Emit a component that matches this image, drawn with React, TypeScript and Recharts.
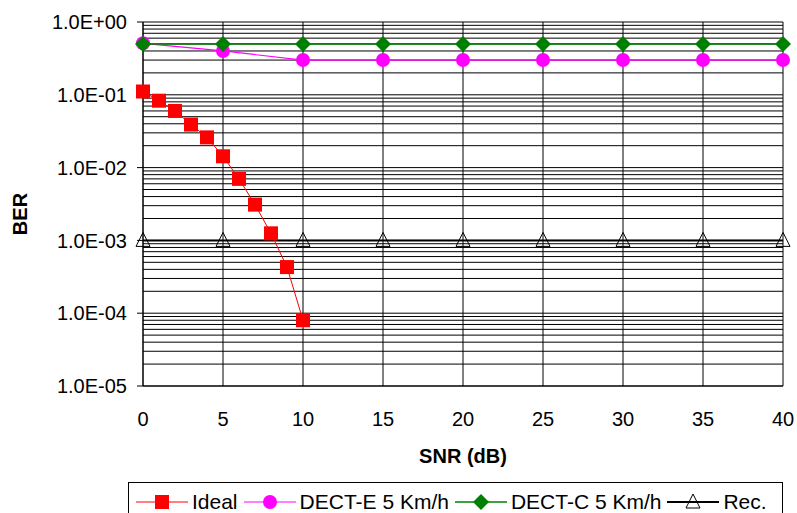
import React from "react"
import {
  LineChart,
  Line,
  XAxis,
  YAxis,
  CartesianGrid,
  ReferenceLine,
  Legend,
} from "recharts"

// SNR (dB) values
const idealSnr = [0, 1, 2, 3, 4, 5, 6, 7, 8, 9, 10]
const idealBer = [0.111, 0.083, 0.06, 0.039, 0.026, 0.0143, 0.007, 0.0031, 0.00125, 0.00043, 0.00008]

const mobileSnr = [0, 5, 10, 15, 20, 25, 30, 35, 40]
const dectEBer = [0.51, 0.4, 0.3, 0.3, 0.3, 0.3, 0.3, 0.3, 0.3]
const dectCBer = [0.5, 0.5, 0.5, 0.5, 0.5, 0.5, 0.5, 0.5, 0.5]
const recBer = [0.001, 0.001, 0.001, 0.001, 0.001, 0.001, 0.001, 0.001, 0.001]

const xTicks = [0, 5, 10, 15, 20, 25, 30, 35, 40]
const yTicks = [1e-5, 1e-4, 1e-3, 1e-2, 1e-1, 1]

const seriesNames = ["Ideal", "DECT-E 5 Km/h", "DECT-C 5 Km/h", "Rec."]

// minor log gridlines 2..9 in each decade
const minorY: number[] = []
for (let e = -5; e < 0; e++) {
  for (let m = 2; m <= 9; m++) minorY.push(m * Math.pow(10, e))
}

const idealData = idealSnr.map((x, i) => ({ x, y: idealBer[i] }))
const dectEData = mobileSnr.map((x, i) => ({ x, y: dectEBer[i] }))
const dectCData = mobileSnr.map((x, i) => ({ x, y: dectCBer[i] }))
const recData = mobileSnr.map((x, i) => ({ x, y: recBer[i] }))

const FONT = "'Liberation Sans', Arial, sans-serif"

const fmtExp = (v: number) => {
  const e = Math.round(Math.log10(v))
  return `1.0E${e < 0 ? "-" : "+"}${String(Math.abs(e)).padStart(2, "0")}`
}

const Square = (props: any) => {
  const { cx, cy } = props
  if (cx == null || cy == null) return null
  return <rect x={cx - 7} y={cy - 7} width={14} height={14} fill="#ff0000" />
}

const Circle = (props: any) => {
  const { cx, cy } = props
  if (cx == null || cy == null) return null
  return <circle cx={cx} cy={cy} r={7} fill="#ff00ff" />
}

const Diamond = (props: any) => {
  const { cx, cy } = props
  if (cx == null || cy == null) return null
  return <polygon points={`${cx},${cy - 8} ${cx + 8},${cy} ${cx},${cy + 8} ${cx - 8},${cy}`} fill="#008000" />
}

const Triangle = (props: any) => {
  const { cx, cy } = props
  if (cx == null || cy == null) return null
  return (
    <polygon
      points={`${cx},${cy - 8} ${cx + 7},${cy + 6} ${cx - 7},${cy + 6}`}
      fill="none"
      stroke="#000"
      strokeWidth={1}
    />
  )
}

const legendIcons = [
  { color: "#ff0000", width: 1, shape: Square },
  { color: "#ff00ff", width: 1, shape: Circle },
  { color: "#008000", width: 1.5, shape: Diamond },
  { color: "#000000", width: 2, shape: Triangle },
]

const LegendBox = () => (
  <div
    style={{
      border: "1px solid #000",
      height: 40,
      display: "flex",
      alignItems: "center",
      paddingLeft: 7,
      boxSizing: "border-box",
      fontFamily: FONT,
      fontSize: 21,
      color: "#000",
      whiteSpace: "nowrap",
    }}
  >
    {seriesNames.map((name, i) => {
      const ic = legendIcons[i]
      const Shape = ic.shape
      return (
        <span key={name} style={{ display: "inline-flex", alignItems: "center", marginRight: 6 }}>
          <svg width={52} height={20} style={{ marginRight: 4 }}>
            <line x1={0} y1={10} x2={52} y2={10} stroke={ic.color} strokeWidth={ic.width} />
            <Shape cx={26} cy={10} />
          </svg>
          {name}
        </span>
      )
    })}
  </div>
)

export default function App() {
  return (
    <div style={{ position: "absolute", left: 0, top: 0, background: "#fff" }}>
      <LineChart width={797} height={513} margin={{ top: 22, right: 14, left: 0, bottom: 0 }}>
        <CartesianGrid stroke="#000" strokeWidth={1} />
        {minorY.map((v) => (
          <ReferenceLine key={v} y={v} stroke="#000" strokeWidth={1} ifOverflow="hidden" />
        ))}
        <XAxis
          dataKey="x"
          type="number"
          domain={[0, 40]}
          ticks={xTicks}
          allowDuplicatedCategory={false}
          height={127}
          tickSize={0}
          tickMargin={26}
          axisLine={{ stroke: "#000" }}
          tick={{ fill: "#000", fontSize: 20, fontFamily: FONT }}
          label={{
            content: (p: any) => {
              const vb = p.viewBox
              return (
                <text
                  x={vb.x + vb.width / 2}
                  y={vb.y + 77}
                  textAnchor="middle"
                  fontFamily={FONT}
                  fontSize={20}
                  fontWeight="bold"
                  fill="#000"
                >
                  SNR (dB)
                </text>
              )
            },
          }}
        />
        <YAxis
          type="number"
          scale="log"
          domain={[1e-5, 1]}
          ticks={yTicks}
          allowDataOverflow
          width={143}
          tickSize={6}
          tickMargin={10}
          tickFormatter={fmtExp}
          axisLine={{ stroke: "#000" }}
          tickLine={{ stroke: "#000" }}
          tick={{ fill: "#000", fontSize: 20, fontFamily: FONT }}
          label={{
            content: () => (
              <text
                x={27}
                y={214}
                transform="rotate(-90, 27, 214)"
                textAnchor="middle"
                fontFamily={FONT}
                fontSize={20}
                fontWeight="bold"
                fill="#000"
              >
                BER
              </text>
            ),
          }}
        />
        <Line
          data={recData}
          dataKey="y"
          name={seriesNames[3]}
          stroke="#000"
          strokeWidth={2}
          dot={<Triangle />}
          isAnimationActive={false}
        />
        <Line
          data={idealData}
          dataKey="y"
          name={seriesNames[0]}
          stroke="#ff0000"
          strokeWidth={1}
          dot={<Square />}
          isAnimationActive={false}
        />
        <Line
          data={dectEData}
          dataKey="y"
          name={seriesNames[1]}
          stroke="#ff00ff"
          strokeWidth={1.2}
          dot={<Circle />}
          isAnimationActive={false}
        />
        <Line
          data={dectCData}
          dataKey="y"
          name={seriesNames[2]}
          stroke="#008000"
          strokeWidth={1.5}
          dot={<Diamond />}
          isAnimationActive={false}
        />
        <Legend
          layout="vertical"
          align="center"
          verticalAlign="middle"
          content={<LegendBox />}
          wrapperStyle={{ position: "absolute", left: 128, top: 482, width: 655, height: 40 }}
        />
      </LineChart>
    </div>
  )
}
